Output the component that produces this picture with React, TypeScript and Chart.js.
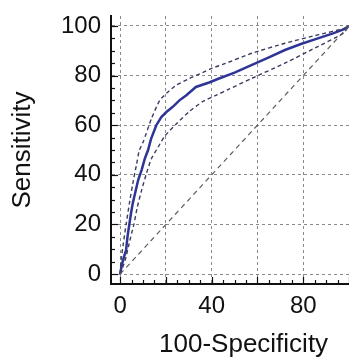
import React, { useEffect, useRef } from "react";
import { Chart, registerables } from "chart.js";

Chart.register(...registerables);

const rocX = [0, 0.7, 1.7, 2.6, 3.2, 4, 4.75, 5.5, 6.5, 7.9, 9.4, 10.8, 12.2, 13.5, 15.8, 18, 20.2, 23, 25.9, 28.8, 33.1, 38.9, 43.2, 50, 57.6, 65, 72, 79, 86.4, 93, 97.9, 100];
const rocY = [0, 3.6, 7, 9.7, 15, 20, 24.5, 28.5, 32.5, 38, 42, 46.6, 50, 54.5, 60, 63.3, 65.3, 67.4, 70, 72, 75.4, 77.2, 78.8, 81.2, 84.3, 87.3, 90.3, 92.7, 95, 97, 98.7, 100];

const upperX = [0, 0.4, 1.4, 2.6, 4, 5.5, 7.2, 8.4, 10.1, 13.7, 17.3, 20.9, 24.5, 30.2, 36, 40.3, 46, 57.6, 72, 86.4, 97.5, 100];
const upperY = [0, 5.6, 12.4, 20, 28.3, 36.3, 44.4, 49.9, 53.3, 62.7, 70, 73.4, 76.1, 78.8, 81.2, 83, 84.9, 89, 93, 96.4, 98.9, 100];

const lowerX = [0, 2.2, 3.6, 5, 6, 7.5, 9.4, 11.5, 13.7, 16.5, 19.4, 24.5, 30.2, 36, 41.8, 47.5, 57.6, 72, 86.4, 97.5, 100];
const lowerY = [0, 5.6, 11, 16.4, 20, 27, 33.9, 40.6, 46.6, 51, 55.5, 60.5, 65.5, 69.5, 72, 74.5, 78.9, 85, 91.7, 97, 100];

const diagX = [0, 100];
const diagY = [0, 100];

const gridValues = [0, 20, 40, 60, 80, 100];
const xTickLabels = ["0", "", "40", "", "80", ""];
const yTickLabels = ["0", "20", "40", "60", "80", "100"];
const xTitle = "100-Specificity";
const yTitle = "Sensitivity";

const toPts = (xs: number[], ys: number[]) => xs.map((x, i) => ({ x, y: ys[i] }));

const FONT = "'Liberation Sans', Arial, sans-serif";

const minorTicks = {
  id: "minorTicks",
  afterDraw(chart: any) {
    const { ctx, chartArea, scales } = chart;
    const xs = scales.x;
    const ys = scales.y;
    ctx.save();
    ctx.strokeStyle = "#111";
    ctx.lineWidth = 1.2;
    for (let v = 0; v <= 100; v += 5) {
      const major = v % 20 === 0;
      const len = major ? 7 : 4;
      const px = Math.round(xs.getPixelForValue(v)) + 0.5;
      ctx.beginPath();
      ctx.moveTo(px, chartArea.bottom);
      ctx.lineTo(px, chartArea.bottom - len);
      ctx.stroke();
      const py = Math.round(ys.getPixelForValue(v)) + 0.5;
      ctx.beginPath();
      ctx.moveTo(chartArea.left, py);
      ctx.lineTo(chartArea.left + len, py);
      ctx.stroke();
    }
    ctx.fillStyle = "#111";
    ctx.font = `26px ${FONT}`;
    ctx.textAlign = "center";
    ctx.textBaseline = "middle";
    const cx = (xs.getPixelForValue(40) + xs.getPixelForValue(60)) / 2 + 9;
    ctx.fillText(xTitle, cx, chart.height - 13);
    ctx.restore();
  },
};

const zeroPad = (s: any) => {
  s.paddingTop = 0;
  s.paddingBottom = 0;
  s.paddingLeft = 0;
  s.paddingRight = 0;
};

export default function App() {
  const ref = useRef<HTMLCanvasElement | null>(null);
  useEffect(() => {
    document.body.style.margin = "0";
    const canvas = ref.current;
    if (!canvas) return;
    const chart = new Chart(canvas, {
      type: "scatter",
      data: {
        datasets: [
          {
            data: toPts(diagX, diagY),
            showLine: true,
            borderColor: "#5e5e5e",
            borderWidth: 1.2,
            borderDash: [5, 4],
            pointRadius: 0,
            pointHoverRadius: 0,
          },
          {
            data: toPts(upperX, upperY),
            showLine: true,
            borderColor: "#3a3d5c",
            borderWidth: 1.4,
            borderDash: [4, 3],
            pointRadius: 0,
            pointHoverRadius: 0,
            tension: 0.2,
          },
          {
            data: toPts(lowerX, lowerY),
            showLine: true,
            borderColor: "#3a3d5c",
            borderWidth: 1.4,
            borderDash: [4, 3],
            pointRadius: 0,
            pointHoverRadius: 0,
            tension: 0.2,
          },
          {
            data: toPts(rocX, rocY),
            showLine: true,
            borderColor: "#2e3596",
            borderWidth: 2.5,
            pointRadius: 0,
            pointHoverRadius: 0,
          },
        ],
      },
      options: {
        animation: false,
        responsive: false,
        maintainAspectRatio: false,
        layout: { autoPadding: false, padding: { top: 16, right: 0, left: 0, bottom: 0 } },
        plugins: { legend: { display: false }, tooltip: { enabled: false } },
        scales: {
          x: {
            type: "linear",
            min: -4,
            max: 100,
            afterBuildTicks: (s: any) => {
              s.ticks = gridValues.map((v) => ({ value: v }));
            },
            afterFit: (s: any) => {
              s.height = 74;
              zeroPad(s);
            },
            ticks: {
              padding: 8,
              maxRotation: 0,
              autoSkip: false,
              color: "#111",
              font: { family: FONT, size: 24 },
              callback: (v: any) => {
                const i = gridValues.indexOf(Number(v));
                return i >= 0 ? xTickLabels[i] : "";
              },
            },
            grid: {
              color: "#8a8a8a",
              lineWidth: 1,
              drawTicks: false,
            },
            border: { display: true, color: "#111", width: 2, dash: [3, 3] },
            title: { display: false },
          },
          y: {
            type: "linear",
            min: -4,
            max: 104,
            afterBuildTicks: (s: any) => {
              s.ticks = gridValues.map((v) => ({ value: v }));
            },
            afterFit: (s: any) => {
              s.width = 111;
              zeroPad(s);
            },
            ticks: {
              padding: 10,
              autoSkip: false,
              color: "#111",
              font: { family: FONT, size: 24 },
              callback: (v: any) => {
                const i = gridValues.indexOf(Number(v));
                return i >= 0 ? yTickLabels[i] : "";
              },
            },
            grid: {
              color: "#8a8a8a",
              lineWidth: 1,
              drawTicks: false,
            },
            border: { display: true, color: "#111", width: 2, dash: [3, 3] },
            title: {
              display: true,
              text: yTitle,
              color: "#111",
              font: { family: FONT, size: 26 },
              padding: { top: 7, bottom: 0 },
            },
          },
        },
      },
      plugins: [minorTicks],
    } as any);
    return () => chart.destroy();
  }, []);
  return (
    <div style={{ width: 349, height: 358 }}>
      <canvas ref={ref} width={349} height={358} style={{ display: "block" }} />
    </div>
  );
}
